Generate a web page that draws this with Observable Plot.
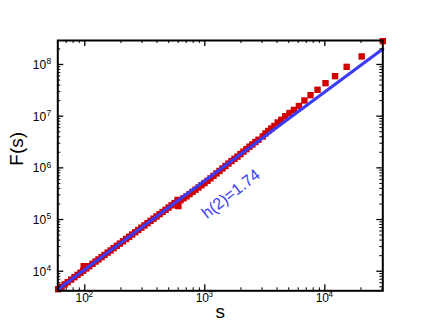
<!DOCTYPE html>
<html>
<head>
<meta charset="utf-8">
<script src="https://cdn.jsdelivr.net/npm/d3@7"></script>
<script src="https://cdn.jsdelivr.net/npm/@observablehq/plot@0.6"></script>
<style>
  html, body { margin: 0; padding: 0; background: white; }
</style>
</head>
<body>
<div id="chart"></div>
<script>
// ---- data ----
const sValues = [60,64,68,72,77,82,87,92,97,98,100,103,109,116,123,130,138,146,155,164,174,185,196,208,221,234,248,263,279,296,314,333,353,374,396,420,445,471,499,529,560,593,595,598,602,628,665,704,746,790,837,886,939,994,1053,1115,1181,1251,1325,1403,1486,1574,1667,1766,1870,1981,2098,2222,2353,2492,2640,2800,3040,3200,3380,3580,3800,4050,4340,4680,5070,5530,6080,6760,7600,8690,10130,12160,15200,20270,30400];
const fValues = [4481,5007,5555,6131,6879,7663,8486,9340,10230,12500,12200,11340,12500,13910,15380,16910,18740,20650,22880,25200,27910,31000,34240,37930,42090,46430,51310,56770,62810,69540,76950,85110,94100,103900,114700,126900,140100,154400,170500,188600,207900,229400,240000,190000,182000,236300,257700,281000,310300,342400,378200,417100,460900,508200,561100,626400,699100,781200,871900,973200,1086000,1213000,1354000,1495000,1650000,1844000,2058000,2298000,2564000,2830000,3161000,3498000,4050000,4630000,5170000,5780000,6460000,7550000,8510000,9960000,11500000,13200000,15700000,20100000,25500000,32400000,43500000,59400000,90000000,143000000,283000000];

const fitS = [60, 30400];
const fitF = [4481, 198700000];

const fitLabel = ["h(2)=1.74"];
const fitLabelS = [1650];
const fitLabelF = [312000];

const xMajor = [100, 1000, 10000];
const xExp = ["2", "3", "4"];
const xMinor = [70,80,90,200,300,400,500,600,700,800,900,2000,3000,4000,5000,6000,7000,8000,9000,20000,30000];
const yMajor = [1e4, 1e5, 1e6, 1e7, 1e8];
const yExp = ["4", "5", "6", "7", "8"];
const yMinor = [5e3,6e3,7e3,8e3,9e3,2e4,3e4,4e4,5e4,6e4,7e4,8e4,9e4,2e5,3e5,4e5,5e5,6e5,7e5,8e5,9e5,2e6,3e6,4e6,5e6,6e6,7e6,8e6,9e6,2e7,3e7,4e7,5e7,6e7,7e7,8e7,9e7,2e8];

// ---- build ----
const points = sValues.map((s, i) => ({s, F: fValues[i]}));
const fit = fitS.map((s, i) => ({s, F: fitF[i]}));
const label = fitLabel.map((t, i) => ({t, s: fitLabelS[i], F: fitLabelF[i]}));
const xMaj = xMajor.map((v, i) => ({v, e: xExp[i]}));
const yMaj = yMajor.map((v, i) => ({v, e: yExp[i]}));

const W = 436, H = 328;
const mL = 57.3, mR = 53.7, mT = 40, mB = 37.7;
const fh = H - mT - mB, fw = W - mL - mR;
const red = "#d00000", blue = "#3c3cf8";
const majLen = 6, minLen = 3;

const chart = Plot.plot({
  width: W, height: H,
  marginLeft: mL, marginRight: mR, marginTop: mT, marginBottom: mB,
  style: {fontFamily: "'Liberation Sans', Arial, sans-serif", background: "white", color: "black"},
  x: {type: "log", domain: [59.6, 30400], axis: null},
  y: {type: "log", domain: [4180, 2.91e8], axis: null},
  marks: [
    Plot.dot(points, {x: "s", y: "F", symbol: "square", r: 3.6, fill: red, stroke: "none"}),
    Plot.line(fit, {x: "s", y: "F", stroke: blue, strokeWidth: 3.2}),
    Plot.text(label, {x: "s", y: "F", text: "t", rotate: -38, fill: blue, fontSize: 16}),
    // ticks (inward, all four sides)
    Plot.tickX(xMajor, {x: d => d, insetTop: fh - majLen, stroke: "black", strokeWidth: 1.3}),
    Plot.tickX(xMajor, {x: d => d, insetBottom: fh - majLen, stroke: "black", strokeWidth: 1.3}),
    Plot.tickX(xMinor, {x: d => d, insetTop: fh - minLen, stroke: "black", strokeWidth: 1}),
    Plot.tickX(xMinor, {x: d => d, insetBottom: fh - minLen, stroke: "black", strokeWidth: 1}),
    Plot.tickY(yMajor, {y: d => d, insetRight: fw - majLen, stroke: "black", strokeWidth: 1.3}),
    Plot.tickY(yMajor, {y: d => d, insetLeft: fw - majLen, stroke: "black", strokeWidth: 1.3}),
    Plot.tickY(yMinor, {y: d => d, insetRight: fw - minLen, stroke: "black", strokeWidth: 1}),
    Plot.tickY(yMinor, {y: d => d, insetLeft: fw - minLen, stroke: "black", strokeWidth: 1}),
    Plot.frame({stroke: "black", strokeWidth: 2}),
    // tick labels 10^k
    Plot.text(xMaj, {x: "v", frameAnchor: "bottom", lineAnchor: "middle", text: () => "10", dx: -2.5, dy: 7.5, fontSize: 12, fill: "black"}),
    Plot.text(xMaj, {x: "v", frameAnchor: "bottom", lineAnchor: "middle", text: "e", textAnchor: "start", dx: 3.5, dy: 3.6, fontSize: 8.5, fill: "black"}),
    Plot.text(yMaj, {y: "v", frameAnchor: "left", lineAnchor: "middle", text: () => "10", textAnchor: "end", dx: -11.6, dy: 0.5, fontSize: 12, fill: "black"}),
    Plot.text(yMaj, {y: "v", frameAnchor: "left", lineAnchor: "middle", text: "e", textAnchor: "start", dx: -11.2, dy: -3, fontSize: 8.5, fill: "black"}),
    // axis titles
    Plot.text(["s"], {frameAnchor: "bottom", lineAnchor: "middle", text: d => d, dy: 21.5, fontSize: 19, fill: "black"}),
    Plot.text(["F(s)"], {frameAnchor: "left", lineAnchor: "middle", text: d => d, rotate: -90, dx: -40.6, fontSize: 19, fill: "black"})
  ]
});
document.getElementById("chart").appendChild(chart);
</script>
</body>
</html>
